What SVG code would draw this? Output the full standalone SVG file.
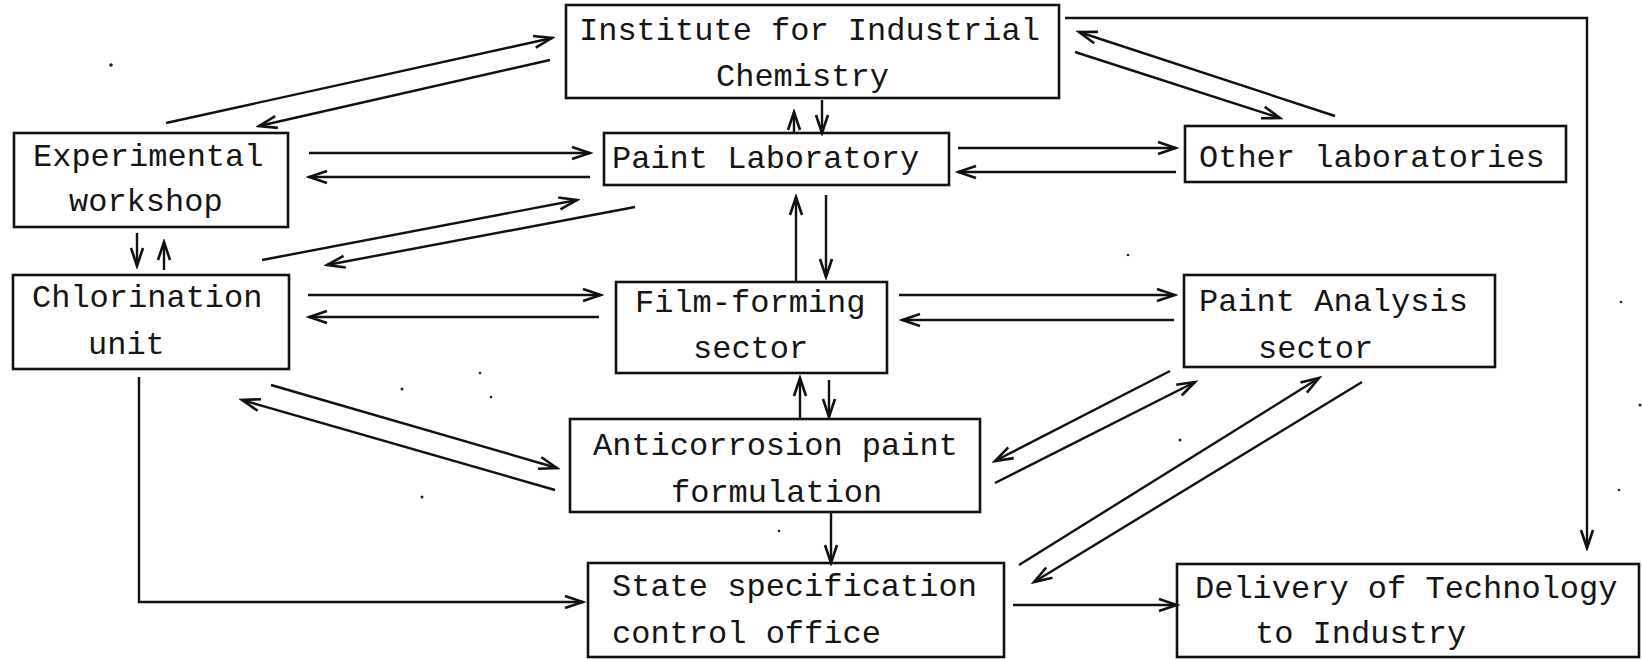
<svg xmlns="http://www.w3.org/2000/svg" width="1642" height="659" viewBox="0 0 1642 659">
  <style>
    .box { fill: none; stroke: #111; stroke-width: 2.6; }
    .lbl { font-family: "Liberation Mono", "DejaVu Sans Mono", monospace; font-size: 32px; fill: #151515; }
    .link { fill: none; stroke: #111; stroke-width: 2.4; marker-end: url(#head); }
    .speck { fill: #222; }
  </style>
  <defs>
    <marker id="head" markerUnits="userSpaceOnUse" markerWidth="24" markerHeight="16" viewBox="0 0 24 16" refX="21" refY="8" orient="auto">
      <path d="M3,2 L21,8 L3,14" fill="none" stroke="#111" stroke-width="2.6" stroke-linejoin="miter"/>
    </marker>
  </defs>
  <rect width="1642" height="659" fill="#fff"/>

  <g id="institute">
    <rect class="box" x="566" y="5" width="493" height="93"/>
    <text class="lbl" x="579" y="40">Institute for Industrial</text>
    <text class="lbl" x="716" y="86">Chemistry</text>
  </g>
  <g id="experimental-workshop">
    <rect class="box" x="14" y="133" width="274" height="94"/>
    <text class="lbl" x="33" y="166">Experimental</text>
    <text class="lbl" x="69" y="211">workshop</text>
  </g>
  <g id="paint-laboratory">
    <rect class="box" x="604" y="133" width="345" height="52"/>
    <text class="lbl" x="612" y="168">Paint Laboratory</text>
  </g>
  <g id="other-laboratories">
    <rect class="box" x="1185" y="126" width="381" height="56"/>
    <text class="lbl" x="1199" y="167">Other laboratories</text>
  </g>
  <g id="chlorination-unit">
    <rect class="box" x="13" y="275" width="276" height="94"/>
    <text class="lbl" x="32" y="307">Chlorination</text>
    <text class="lbl" x="88" y="354">unit</text>
  </g>
  <g id="film-forming-sector">
    <rect class="box" x="616" y="282" width="271" height="91"/>
    <text class="lbl" x="635" y="312">Film-forming</text>
    <text class="lbl" x="693" y="358">sector</text>
  </g>
  <g id="paint-analysis-sector">
    <rect class="box" x="1184" y="275" width="311" height="92"/>
    <text class="lbl" x="1199" y="311">Paint Analysis</text>
    <text class="lbl" x="1258" y="358">sector</text>
  </g>
  <g id="anticorrosion-formulation">
    <rect class="box" x="570" y="419" width="410" height="93"/>
    <text class="lbl" x="593" y="455">Anticorrosion paint</text>
    <text class="lbl" x="671" y="502">formulation</text>
  </g>
  <g id="state-specification-office">
    <rect class="box" x="588" y="563" width="416" height="94"/>
    <text class="lbl" x="612" y="596">State specification</text>
    <text class="lbl" x="612" y="643">control office</text>
  </g>
  <g id="technology-delivery">
    <rect class="box" x="1177" y="564" width="462" height="93"/>
    <text class="lbl" x="1195" y="598">Delivery of Technology</text>
    <text class="lbl" x="1255" y="643">to Industry</text>
  </g>

  <g id="connectors">
    <!-- workshop / institute -->
    <line class="link" x1="166" y1="123" x2="552" y2="38"/>
    <line class="link" x1="550" y1="60" x2="259" y2="126"/>
    <!-- workshop / paint laboratory -->
    <line class="link" x1="309" y1="153" x2="590" y2="153"/>
    <line class="link" x1="590" y1="177" x2="309" y2="177"/>
    <!-- workshop / chlorination -->
    <line class="link" x1="137" y1="233" x2="137" y2="266"/>
    <line class="link" x1="164" y1="270" x2="164" y2="242"/>
    <!-- chlorination / paint laboratory -->
    <line class="link" x1="262" y1="260" x2="577" y2="200"/>
    <line class="link" x1="635" y1="207" x2="327" y2="265"/>
    <!-- paint laboratory / institute -->
    <line class="link" x1="794" y1="133" x2="794" y2="112"/>
    <line class="link" x1="822" y1="100" x2="822" y2="133"/>
    <!-- paint laboratory / other laboratories -->
    <line class="link" x1="958" y1="148" x2="1176" y2="148"/>
    <line class="link" x1="1176" y1="172" x2="958" y2="172"/>
    <!-- institute / other laboratories -->
    <line class="link" x1="1075" y1="52" x2="1280" y2="118"/>
    <line class="link" x1="1335" y1="116" x2="1079" y2="32"/>
    <!-- institute to delivery -->
    <polyline class="link" points="1065,18 1587,18 1587,548"/>
    <!-- film-forming / paint laboratory -->
    <line class="link" x1="796" y1="282" x2="796" y2="197"/>
    <line class="link" x1="826" y1="195" x2="826" y2="277"/>
    <!-- chlorination / film-forming -->
    <line class="link" x1="308" y1="295" x2="601" y2="295"/>
    <line class="link" x1="599" y1="317" x2="309" y2="317"/>
    <!-- film-forming / paint analysis -->
    <line class="link" x1="899" y1="295" x2="1175" y2="295"/>
    <line class="link" x1="1174" y1="320" x2="902" y2="320"/>
    <!-- anticorrosion / film-forming -->
    <line class="link" x1="800" y1="419" x2="800" y2="378"/>
    <line class="link" x1="829" y1="380" x2="829" y2="417"/>
    <!-- chlorination / anticorrosion -->
    <line class="link" x1="271" y1="385" x2="557" y2="468"/>
    <line class="link" x1="555" y1="490" x2="242" y2="400"/>
    <!-- paint analysis / anticorrosion -->
    <line class="link" x1="1170" y1="371" x2="995" y2="461"/>
    <line class="link" x1="995" y1="483" x2="1195" y2="382"/>
    <!-- anticorrosion to state office -->
    <line class="link" x1="831" y1="512" x2="831" y2="563"/>
    <!-- state office / paint analysis -->
    <line class="link" x1="1019" y1="565" x2="1319" y2="378"/>
    <line class="link" x1="1362" y1="382" x2="1034" y2="582"/>
    <!-- chlorination to state office -->
    <polyline class="link" points="139,377 139,602 583,602"/>
    <!-- state office to delivery -->
    <line class="link" x1="1013" y1="605" x2="1177" y2="605"/>
  </g>

  <g id="specks">
    <circle class="speck" cx="111" cy="65" r="1.8"/>
    <circle class="speck" cx="402" cy="389" r="1.5"/>
    <circle class="speck" cx="480" cy="373" r="1.3"/>
    <circle class="speck" cx="491" cy="397" r="1.3"/>
    <circle class="speck" cx="422" cy="497" r="1.5"/>
    <circle class="speck" cx="779" cy="531" r="1.3"/>
    <circle class="speck" cx="1128" cy="255" r="1.3"/>
    <circle class="speck" cx="1180" cy="440" r="1.5"/>
    <circle class="speck" cx="1621" cy="302" r="1.3"/>
    <circle class="speck" cx="1640" cy="405" r="1.5"/>
    <circle class="speck" cx="1619" cy="490" r="1.3"/>
  </g>
</svg>
